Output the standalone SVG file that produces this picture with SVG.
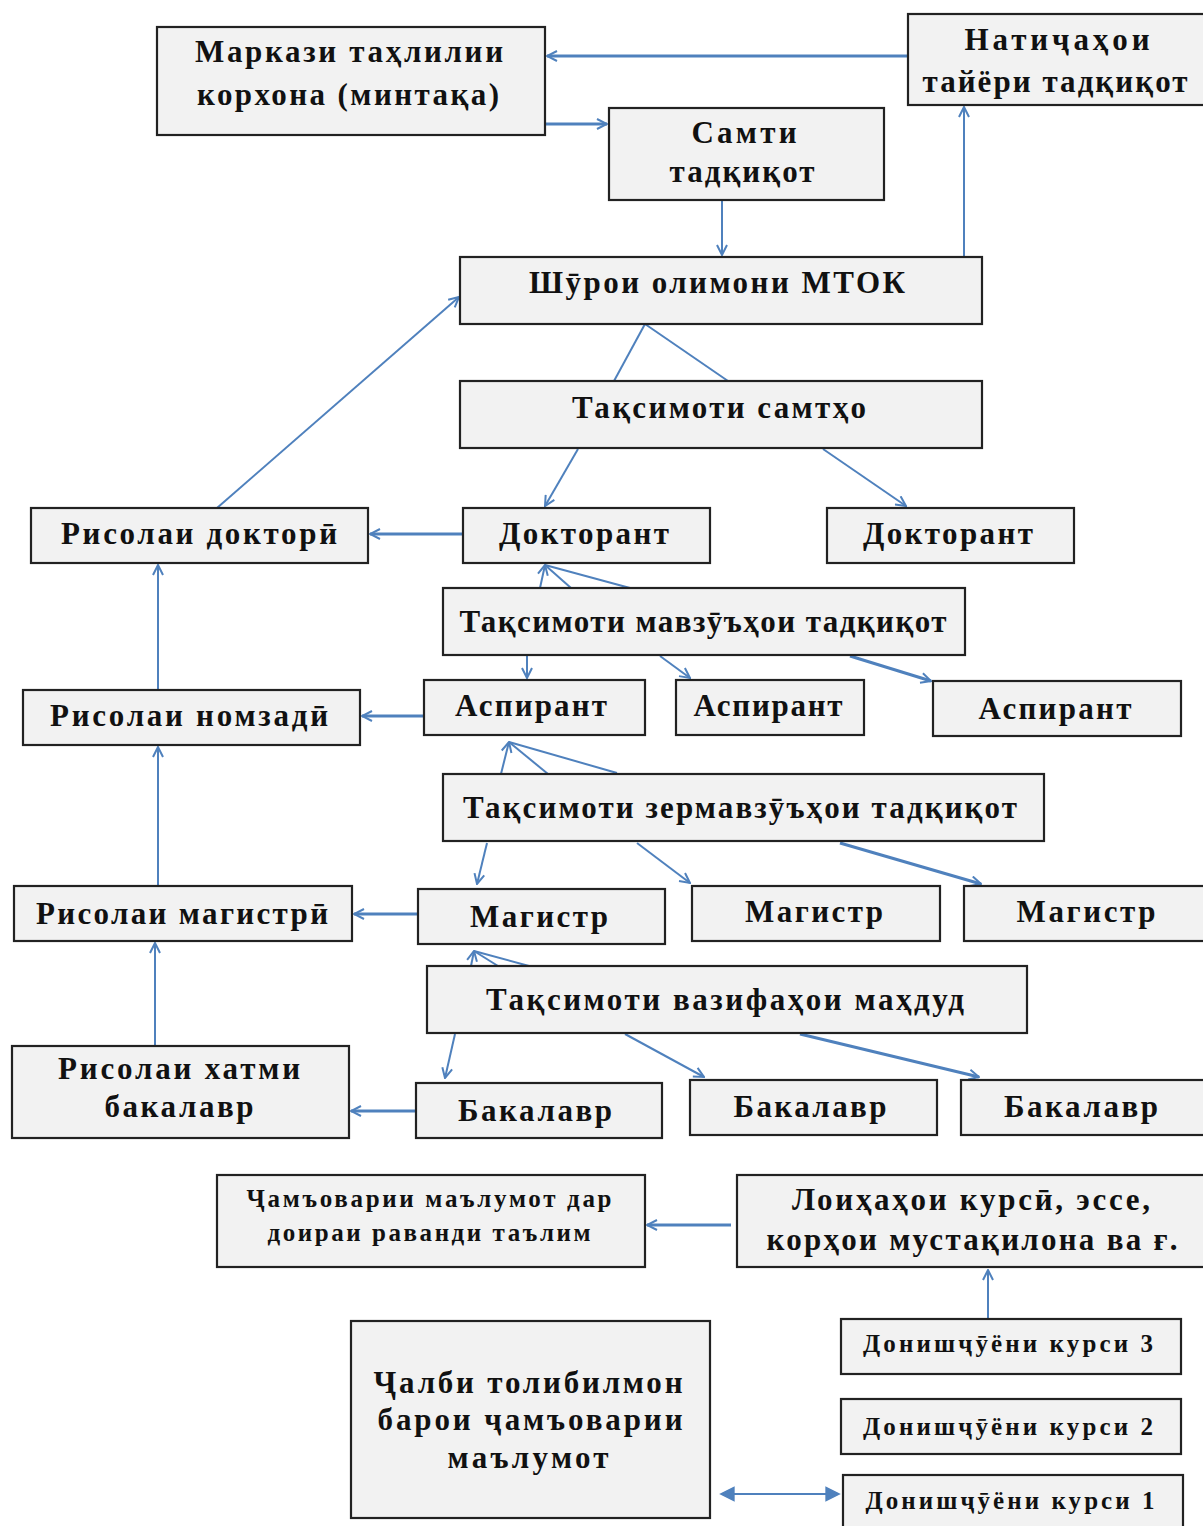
<svg xmlns="http://www.w3.org/2000/svg" width="1203" height="1526" viewBox="0 0 1203 1526">
<defs>
<style>
.box{fill:#f2f2f2;stroke:#222;stroke-width:2.2}
.t{font-family:"Liberation Serif","Times New Roman",serif;font-size:31px;font-weight:bold;fill:#111;text-anchor:middle}
.s{font-size:25px}
.c{fill:none;stroke:#4f81bd;stroke-width:2}
.w{stroke-width:3}
</style>
<marker id="a" viewBox="0 0 12 12" refX="11" refY="6" markerWidth="12" markerHeight="12" markerUnits="userSpaceOnUse" orient="auto">
<path d="M1,1 L11,6 L1,11" fill="none" stroke="#4f81bd" stroke-width="2"/>
</marker>
<marker id="b" viewBox="0 0 12 12" refX="10" refY="6" markerWidth="16" markerHeight="16" markerUnits="userSpaceOnUse" orient="auto-start-reverse">
<path d="M1,1 L11,6 L1,11 Z" fill="#4f81bd" stroke="#4f81bd" stroke-width="1"/>
</marker>
</defs>
<rect width="1203" height="1526" fill="#fff"/>
<g id="connectors">
<line class="c w" x1="908" y1="56" x2="547" y2="56" marker-end="url(#a)"/>
<line class="c w" x1="545" y1="124" x2="607" y2="124" marker-end="url(#a)"/>
<line class="c" x1="722" y1="200" x2="722" y2="255" marker-end="url(#a)"/>
<line class="c" x1="964" y1="257" x2="964" y2="107" marker-end="url(#a)"/>
<line class="c" x1="217" y1="508" x2="459" y2="297" marker-end="url(#a)"/>
<line class="c" x1="614" y1="381" x2="645" y2="324"/>
<line class="c" x1="728" y1="381" x2="645" y2="324"/>
<line class="c" x1="578" y1="449" x2="545" y2="506" marker-end="url(#a)"/>
<line class="c" x1="823" y1="449" x2="906" y2="506" marker-end="url(#a)"/>
<line class="c w" x1="463" y1="534" x2="370" y2="534" marker-end="url(#a)"/>
<line class="c" x1="540" y1="588" x2="545" y2="565" marker-end="url(#a)"/>
<line class="c" x1="571" y1="588" x2="545" y2="565"/>
<line class="c" x1="630" y1="588" x2="545" y2="565"/>
<line class="c" x1="527" y1="656" x2="527" y2="678" marker-end="url(#a)"/>
<line class="c" x1="660" y1="656" x2="690" y2="678" marker-end="url(#a)"/>
<line class="c w" x1="850" y1="656" x2="931" y2="681" marker-end="url(#a)"/>
<line class="c w" x1="424" y1="716" x2="362" y2="716" marker-end="url(#a)"/>
<line class="c" x1="158" y1="690" x2="158" y2="565" marker-end="url(#a)"/>
<line class="c" x1="501" y1="774" x2="509" y2="742" marker-end="url(#a)"/>
<line class="c" x1="548" y1="774" x2="509" y2="742"/>
<line class="c" x1="617" y1="773" x2="509" y2="742"/>
<line class="c" x1="487" y1="843" x2="477" y2="884" marker-end="url(#a)"/>
<line class="c" x1="637" y1="843" x2="690" y2="883" marker-end="url(#a)"/>
<line class="c w" x1="840" y1="843" x2="981" y2="884" marker-end="url(#a)"/>
<line class="c w" x1="418" y1="914" x2="354" y2="914" marker-end="url(#a)"/>
<line class="c" x1="158" y1="886" x2="158" y2="747" marker-end="url(#a)"/>
<line class="c" x1="471" y1="966" x2="474" y2="951" marker-end="url(#a)"/>
<line class="c" x1="498" y1="966" x2="474" y2="951"/>
<line class="c" x1="529" y1="966" x2="474" y2="951"/>
<line class="c" x1="455" y1="1034" x2="445" y2="1078" marker-end="url(#a)"/>
<line class="c" x1="625" y1="1034" x2="704" y2="1077" marker-end="url(#a)"/>
<line class="c w" x1="800" y1="1034" x2="979" y2="1077" marker-end="url(#a)"/>
<line class="c w" x1="416" y1="1111" x2="351" y2="1111" marker-end="url(#a)"/>
<line class="c" x1="155" y1="1046" x2="155" y2="943" marker-end="url(#a)"/>
<line class="c w" x1="731" y1="1225" x2="647" y2="1225" marker-end="url(#a)"/>
<line class="c" x1="988" y1="1319" x2="988" y2="1270" marker-end="url(#a)"/>
<line class="c" x1="722" y1="1494" x2="838" y2="1494" stroke-width="4" marker-start="url(#b)" marker-end="url(#b)"/>
</g>
<g id="n1"><rect class="box" x="157" y="27" width="388" height="108"/><text class="t" x="349" y="62" textLength="308" lengthAdjust="spacing">Маркази таҳлилии</text><text class="t" x="348" y="105" textLength="302" lengthAdjust="spacing">корхона (минтақа)</text></g>
<g id="n2"><rect class="box" x="908" y="14" width="300" height="91"/><text class="t" x="1057" y="50" textLength="185" lengthAdjust="spacing">Натиҷаҳои</text><text class="t" x="1055" y="92" textLength="265" lengthAdjust="spacing">тайёри тадқиқот</text></g>
<g id="n3"><rect class="box" x="609" y="108" width="275" height="92"/><text class="t" x="744" y="143" textLength="105" lengthAdjust="spacing">Самти</text><text class="t" x="742" y="182" textLength="145" lengthAdjust="spacing">тадқиқот</text></g>
<g id="n4"><rect class="box" x="460" y="257" width="522" height="67"/><text class="t" x="717" y="293" textLength="376" lengthAdjust="spacing">Шӯрои олимони МТОК</text></g>
<g id="n5"><rect class="box" x="460" y="381" width="522" height="67"/><text class="t" x="719" y="418" textLength="294" lengthAdjust="spacing">Тақсимоти самтҳо</text></g>
<g id="n6"><rect class="box" x="31" y="508" width="337" height="55"/><text class="t" x="199" y="544" textLength="276" lengthAdjust="spacing">Рисолаи докторӣ</text></g>
<g id="n7"><rect class="box" x="463" y="508" width="247" height="55"/><text class="t" x="584" y="544" textLength="170" lengthAdjust="spacing">Докторант</text></g>
<g id="n8"><rect class="box" x="827" y="508" width="247" height="55"/><text class="t" x="948" y="544" textLength="170" lengthAdjust="spacing">Докторант</text></g>
<g id="n9"><rect class="box" x="443" y="588" width="522" height="67"/><text class="t" x="703" y="632" textLength="487" lengthAdjust="spacing">Тақсимоти мавзӯъҳои тадқиқот</text></g>
<g id="n10"><rect class="box" x="23" y="690" width="337" height="55"/><text class="t" x="189" y="726" textLength="278" lengthAdjust="spacing">Рисолаи номзадӣ</text></g>
<g id="n11"><rect class="box" x="424" y="680" width="221" height="55"/><text class="t" x="531" y="716" textLength="152" lengthAdjust="spacing">Аспирант</text></g>
<g id="n12"><rect class="box" x="676" y="680" width="188" height="55"/><text class="t" x="768" y="716" textLength="149" lengthAdjust="spacing">Аспирант</text></g>
<g id="n13"><rect class="box" x="933" y="681" width="248" height="55"/><text class="t" x="1055" y="719" textLength="153" lengthAdjust="spacing">Аспирант</text></g>
<g id="n14"><rect class="box" x="443" y="774" width="601" height="67"/><text class="t" x="740" y="818" textLength="554" lengthAdjust="spacing">Тақсимоти зермавзӯъҳои тадқиқот</text></g>
<g id="n15"><rect class="box" x="14" y="886" width="338" height="55"/><text class="t" x="182" y="924" textLength="292" lengthAdjust="spacing">Рисолаи магистрӣ</text></g>
<g id="n16"><rect class="box" x="418" y="889" width="247" height="55"/><text class="t" x="539" y="927" textLength="138" lengthAdjust="spacing">Магистр</text></g>
<g id="n17"><rect class="box" x="692" y="886" width="248" height="55"/><text class="t" x="814" y="922" textLength="138" lengthAdjust="spacing">Магистр</text></g>
<g id="n18"><rect class="box" x="964" y="886" width="244" height="55"/><text class="t" x="1086" y="922" textLength="139" lengthAdjust="spacing">Магистр</text></g>
<g id="n19"><rect class="box" x="427" y="966" width="600" height="67"/><text class="t" x="725" y="1010" textLength="478" lengthAdjust="spacing">Тақсимоти вазифаҳои маҳдуд</text></g>
<g id="n20"><rect class="box" x="12" y="1046" width="337" height="92"/><text class="t" x="179" y="1079" textLength="242" lengthAdjust="spacing">Рисолаи хатми</text><text class="t" x="179" y="1117" textLength="149" lengthAdjust="spacing">бакалавр</text></g>
<g id="n21"><rect class="box" x="416" y="1083" width="246" height="55"/><text class="t" x="535" y="1121" textLength="154" lengthAdjust="spacing">Бакалавр</text></g>
<g id="n22"><rect class="box" x="690" y="1080" width="247" height="55"/><text class="t" x="810" y="1117" textLength="153" lengthAdjust="spacing">Бакалавр</text></g>
<g id="n23"><rect class="box" x="961" y="1080" width="247" height="55"/><text class="t" x="1081" y="1117" textLength="154" lengthAdjust="spacing">Бакалавр</text></g>
<g id="n24"><rect class="box" x="217" y="1175" width="428" height="92"/><text class="t s" x="429" y="1207" textLength="365" lengthAdjust="spacing">Ҷамъоварии маълумот дар</text><text class="t s" x="429" y="1241" textLength="323" lengthAdjust="spacing">доираи раванди таълим</text></g>
<g id="n25"><rect class="box" x="737" y="1175" width="471" height="92"/><text class="t" x="971" y="1210" textLength="358" lengthAdjust="spacing">Лоиҳаҳои курсӣ, эссе,</text><text class="t" x="972" y="1250" textLength="411" lengthAdjust="spacing">корҳои мустақилона ва ғ.</text></g>
<g id="n26"><rect class="box" x="351" y="1321" width="359" height="197"/><text class="t" x="528" y="1393" textLength="309" lengthAdjust="spacing">Ҷалби толибилмон</text><text class="t" x="530" y="1430" textLength="305" lengthAdjust="spacing">барои ҷамъоварии</text><text class="t" x="528" y="1468" textLength="161" lengthAdjust="spacing">маълумот</text></g>
<g id="n27"><rect class="box" x="841" y="1319" width="340" height="55"/><text class="t s" x="1008" y="1352" textLength="290" lengthAdjust="spacing">Донишҷӯёни курси 3</text></g>
<g id="n28"><rect class="box" x="841" y="1399" width="340" height="55"/><text class="t s" x="1008" y="1435" textLength="290" lengthAdjust="spacing">Донишҷӯёни курси 2</text></g>
<g id="n29"><rect class="box" x="843" y="1475" width="340" height="60"/><text class="t s" x="1010" y="1509" textLength="289" lengthAdjust="spacing">Донишҷӯёни курси 1</text></g>
</svg>
